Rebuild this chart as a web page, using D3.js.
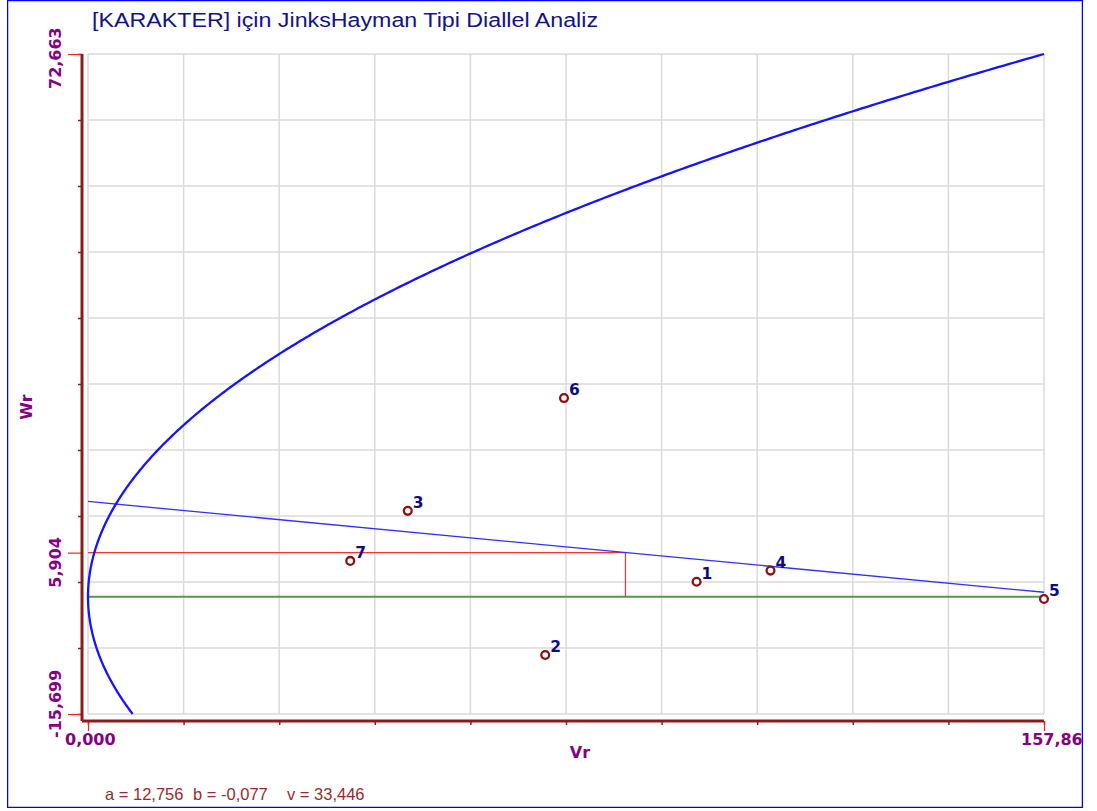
<!DOCTYPE html>
<html>
<head>
<meta charset="utf-8">
<script src="https://cdn.jsdelivr.net/npm/d3@7"></script>
<style>
  html, body { margin: 0; padding: 0; background: #ffffff; }
  svg { display: block; }
</style>
</head>
<body>
<svg id="chart" width="1097" height="811"></svg>
<script>
// Genotype (parent) numbers and their array variance (Vr) / covariance (Wr)
const genotypes = ["1", "2", "3", "4", "5", "6", "7"];
const vrValues = [100.5, 75.5, 52.8, 112.7, 157.86, 78.6, 43.3];
const wrValues = [2.0, -7.8, 11.5, 3.5, -0.3, 26.6, 4.8];

// Regression Wr = a + b*Vr and limiting parabola Wr^2 = Vr * v
const coefA = 12.756;
const coefB = -0.077;
const coefV = 33.446;
const meanWr = 5.904;

// Axis ranges and labelled ticks
const vrRange = [0, 157.863];
const wrRange = [-15.699, 72.663];
const xTickValues = [0, 157.863];
const yTickValues = [-15.699, 5.904, 72.663];
const gridDivisions = 10;

const titleText = "[KARAKTER] için JinksHayman Tipi Diallel Analiz";
const footerTexts = ["a = 12,756", "b = -0,077", "v = 33,446"];

const locale = d3.formatLocale({ decimal: ",", thousands: ".", grouping: [3], currency: ["", ""], minus: "-" });
const fmt3 = locale.format(".3f");

const svg = d3.select("#chart");

svg.append("defs").append("clipPath").attr("id", "frameClip")
  .append("rect").attr("x", 7).attr("y", 0).attr("width", 1076).attr("height", 808);

const root = svg.append("g").attr("clip-path", "url(#frameClip)");

// Outer frame
root.append("rect")
  .attr("x", 7.5).attr("y", 0.5).attr("width", 1075).attr("height", 807)
  .attr("fill", "#ffffff").attr("stroke", "#0000ff").attr("stroke-width", 1.5);

const plot = { left: 88, right: 1044, top: 54, bottom: 714 };
const axisX = 82, axisY = 721;

const x = d3.scaleLinear().domain(vrRange).range([plot.left, plot.right]);
const y = d3.scaleLinear().domain(wrRange).range([plot.bottom, plot.top]);

const gridX = d3.range(gridDivisions + 1).map(i => vrRange[0] + i * (vrRange[1] - vrRange[0]) / gridDivisions);
const gridY = d3.range(gridDivisions + 1).map(i => wrRange[0] + i * (wrRange[1] - wrRange[0]) / gridDivisions);

// Grid
const grid = root.append("g").attr("stroke", "#dadada").attr("stroke-width", 1.5);
grid.selectAll("line.v").data(gridX).join("line").attr("class", "v")
  .attr("x1", d => x(d)).attr("x2", d => x(d))
  .attr("y1", plot.top).attr("y2", plot.bottom);
grid.selectAll("line.h").data(gridY).join("line").attr("class", "h")
  .attr("x1", plot.left).attr("x2", plot.right)
  .attr("y1", d => y(d)).attr("y2", d => y(d));

// Minor ticks on both axes
const minorLeft = root.append("g").attr("transform", `translate(${axisX},0)`)
  .call(d3.axisLeft(y).tickValues(gridY).tickSize(4).tickFormat(""));
const minorBottom = root.append("g").attr("transform", `translate(0,${axisY})`)
  .call(d3.axisBottom(x).tickValues(gridX).tickSize(4).tickFormat(""));
[minorLeft, minorBottom].forEach(g => {
  g.select(".domain").remove();
  g.selectAll(".tick line").attr("stroke", "#8b1c1c").attr("stroke-width", 1.5);
});

// Labelled ticks in red
const majorLeft = root.append("g").attr("transform", `translate(${axisX},0)`)
  .call(d3.axisLeft(y).tickValues(yTickValues).tickSize(14).tickFormat(""));
const majorBottom = root.append("g").attr("transform", `translate(0,${axisY})`)
  .call(d3.axisBottom(x).tickValues(xTickValues).tickSize(10).tickFormat(""));
[majorLeft, majorBottom].forEach(g => {
  g.select(".domain").remove();
  g.selectAll(".tick line").attr("stroke", "#ff2020").attr("stroke-width", 1.2);
});

// Axis lines
root.append("line").attr("x1", axisX).attr("x2", axisX).attr("y1", plot.top).attr("y2", axisY)
  .attr("stroke", "#8b1c1c").attr("stroke-width", 3);
root.append("line").attr("x1", axisX).attr("x2", plot.right).attr("y1", axisY).attr("y2", axisY)
  .attr("stroke", "#8b1c1c").attr("stroke-width", 3);

// Tick labels
const labelFont = "'DejaVu Sans', Verdana, sans-serif";
root.selectAll("text.xt").data(xTickValues).join("text").attr("class", "xt")
  .attr("x", d => x(d) - 23).attr("y", 745)
  .attr("font-family", labelFont).attr("font-weight", "bold").attr("font-size", 16)
  .attr("fill", "#850085").text(d => fmt3(d));

root.selectAll("text.yt").data(yTickValues).join("text").attr("class", "yt")
  .attr("transform", d => `translate(61,${Math.min(y(d) + 35, 738)}) rotate(-90)`)
  .attr("font-family", labelFont).attr("font-weight", "bold").attr("font-size", 16)
  .attr("fill", "#850085").text(d => fmt3(d));

// Axis titles
root.append("text").attr("x", 580).attr("y", 758).attr("text-anchor", "middle")
  .attr("font-family", labelFont).attr("font-weight", "bold").attr("font-size", 16)
  .attr("fill", "#850085").text("Vr");
root.append("text").attr("transform", "translate(32,407) rotate(-90)").attr("text-anchor", "middle")
  .attr("font-family", labelFont).attr("font-weight", "bold").attr("font-size", 16)
  .attr("fill", "#850085").text("Wr");

// Wr = 0 reference line
root.append("line").attr("x1", x(vrRange[0])).attr("x2", x(vrRange[1]))
  .attr("y1", y(0)).attr("y2", y(0))
  .attr("stroke", "#4c9c4c").attr("stroke-width", 2);

// Mean Vr / mean Wr guide lines
const meanVr = d3.mean(vrValues);
root.append("path")
  .attr("d", d3.line()([[x(vrRange[0]), y(meanWr)], [x(meanVr), y(meanWr)], [x(meanVr), y(0)]]))
  .attr("fill", "none").attr("stroke", "#ff3030").attr("stroke-width", 1.2);

// Regression line
root.append("line")
  .attr("x1", x(vrRange[0])).attr("y1", y(coefA + coefB * vrRange[0]))
  .attr("x2", x(vrRange[1])).attr("y2", y(coefA + coefB * vrRange[1]))
  .attr("stroke", "#3030ff").attr("stroke-width", 1.3);

// Limiting parabola, traced along Wr
const wrSamples = d3.range(0, 401).map(i => wrRange[0] + i * (wrRange[1] - wrRange[0]) / 400);
const parabola = d3.line().x(w => x(w * w / coefV)).y(w => y(w));
root.append("path").attr("d", parabola(wrSamples))
  .attr("fill", "none").attr("stroke", "#1414ff").attr("stroke-width", 2.3);

// Genotype points and labels
const pts = genotypes.map((g, i) => ({ g, vr: vrValues[i], wr: wrValues[i] }));
root.selectAll("circle.pt").data(pts).join("circle").attr("class", "pt")
  .attr("cx", d => x(d.vr)).attr("cy", d => y(d.wr)).attr("r", 3.9)
  .attr("fill", "#ffffff").attr("stroke", "#8b1010").attr("stroke-width", 2.3);
root.selectAll("text.pl").data(pts).join("text").attr("class", "pl")
  .attr("x", d => x(d.vr) + 5).attr("y", d => y(d.wr) - 3)
  .attr("font-family", labelFont).attr("font-weight", "bold").attr("font-size", 15.5)
  .attr("fill", "#0c0c80").text(d => d.g);

// Title
root.append("text").attr("x", 92).attr("y", 27)
  .attr("font-family", "'Liberation Sans', Arial, sans-serif").attr("font-size", 20)
  .attr("textLength", 506).attr("lengthAdjust", "spacingAndGlyphs")
  .attr("fill", "#12128a").text(titleText);

// Coefficients footer
const footerX = [105, 193, 287];
root.selectAll("text.ft").data(footerTexts).join("text").attr("class", "ft")
  .attr("x", (d, i) => footerX[i]).attr("y", 800)
  .attr("font-family", "'Liberation Sans', Arial, sans-serif").attr("font-size", 16.5)
  .attr("fill", "#992a2a").text(d => d);
</script>
</body>
</html>
